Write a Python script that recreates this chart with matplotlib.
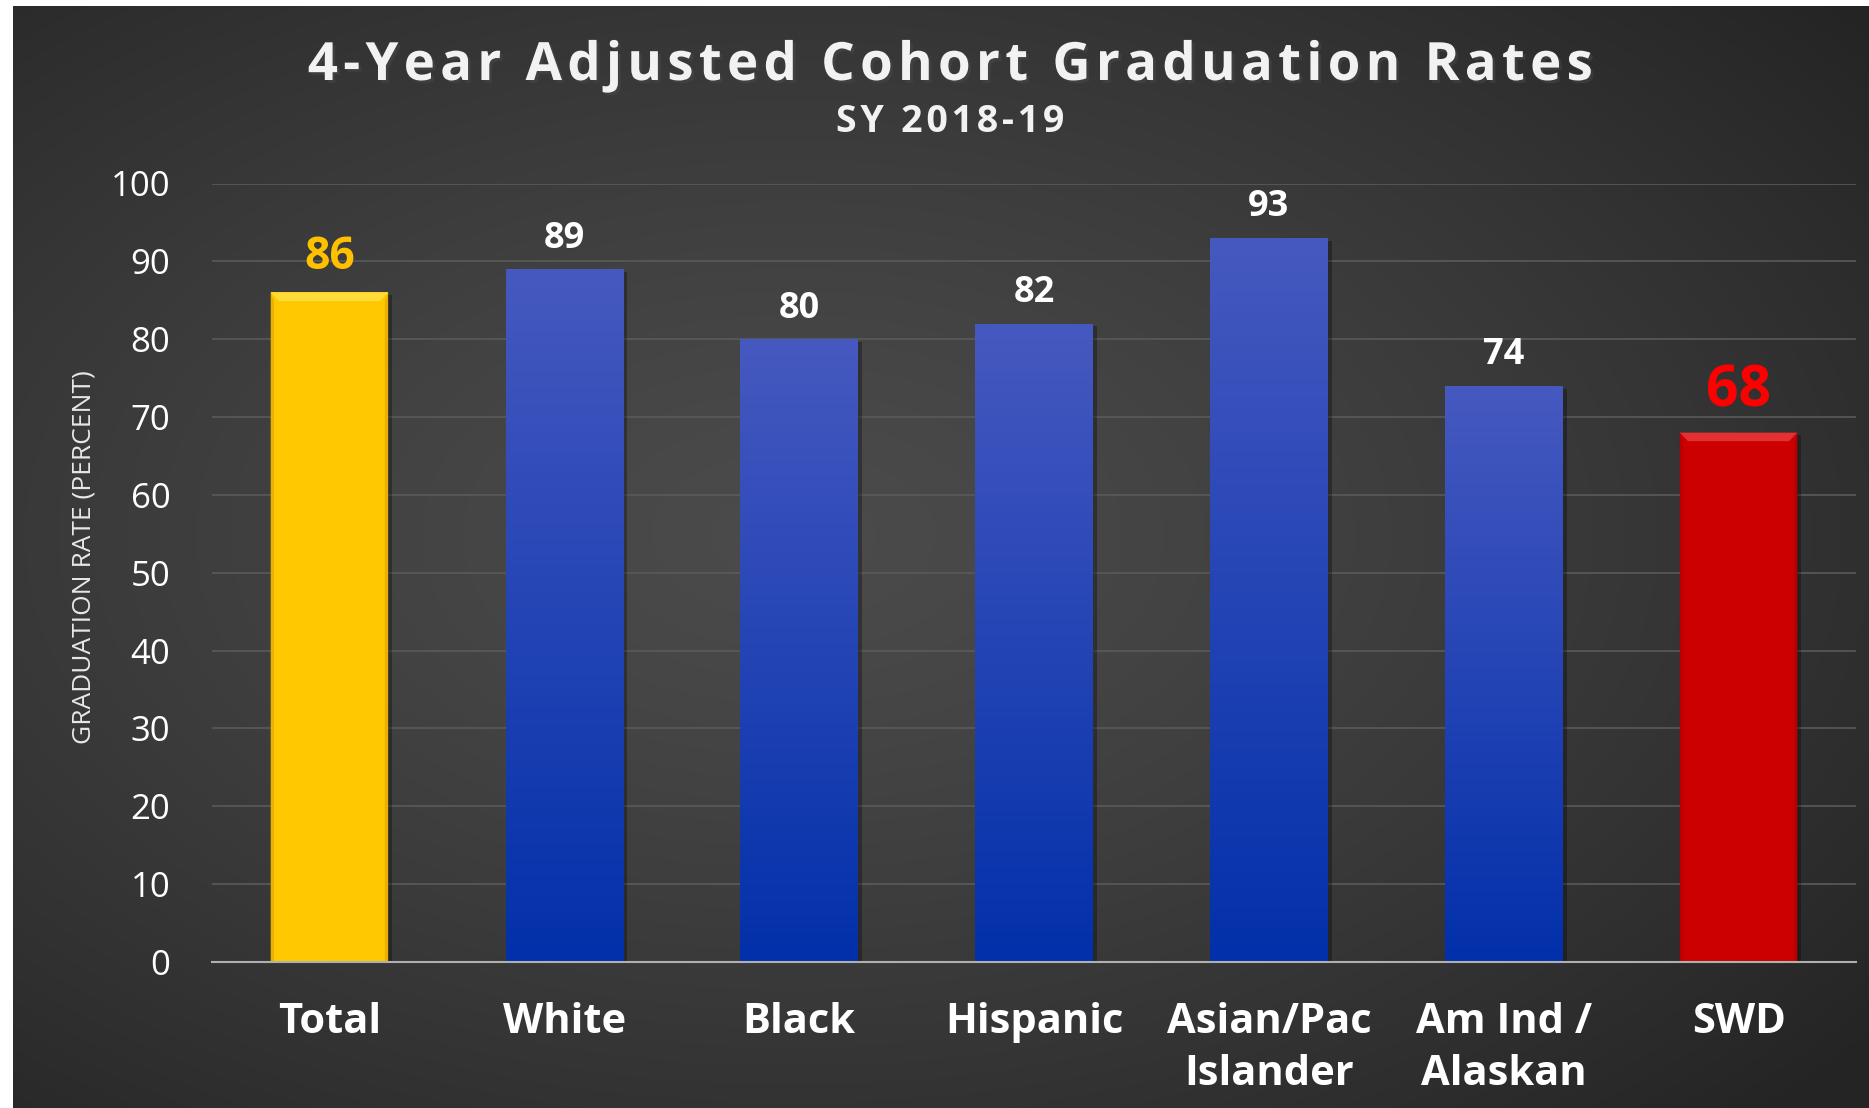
import numpy as np
import matplotlib.pyplot as plt
from matplotlib.patches import Polygon
from matplotlib import patheffects as pe

# Graduation rates by group, SY 2018-19
groups = ['Total', 'White', 'Black', 'Hispanic', 'Asian/Pac\nIslander', 'Am Ind /\nAlaskan', 'SWD']
rates = [86, 89, 80, 82, 93, 74, 68]
yticks = [0, 10, 20, 30, 40, 50, 60, 70, 80, 90, 100]
title = '4-Year Adjusted Cohort Graduation Rates'
subtitle = 'SY 2018-19'

W, H = 1869, 1108
fig = plt.figure(figsize=(W / 100, H / 100), dpi=100)
fig.patch.set_facecolor('white')


def spaced(s):
    # loosen the tracking a little with hair spaces
    return '\u200a'.join(s)


# dark panel with a soft radial glow in the middle
bg = fig.add_axes([13 / W, 0, 1 - 13 / W, 1 - 6 / H])
bg.set_axis_off()
yy, xx = np.mgrid[0:1:400j, 0:1:700j]
r = np.sqrt(((xx - 0.42) / 0.75) ** 2 + ((yy - 0.52) / 0.75) ** 2)
r = np.clip(r, 0, 1)
c_in = np.array([0x4b, 0x4b, 0x4b]) / 255
c_out = np.array([0x24, 0x24, 0x24]) / 255
img = c_in[None, None, :] * (1 - r[..., None] ** 1.3) + c_out[None, None, :] * r[..., None] ** 1.3
bg.imshow(img, aspect='auto', extent=[0, 1, 0, 1], origin='lower')

ax = fig.add_axes([212 / W, 146 / H, (1856 - 212) / W, (962 - 183.5) / H])
ax.set_facecolor('none')
ax.set_xlim(-0.5, len(groups) - 0.5)
ax.set_ylim(0, 100)
ax.set_yticks(yticks)
ax.grid(axis='y', color='#5a5a5a', linewidth=1.2)
ax.set_axisbelow(True)
for s in ['top', 'right', 'left']:
    ax.spines[s].set_visible(False)
ax.spines['bottom'].set_color('#b0b0b0')
ax.spines['bottom'].set_linewidth(1.5)
ax.spines['bottom'].set_zorder(5)

ax.tick_params(axis='y', length=0, pad=30, labelsize=25, labelcolor='white')
ax.tick_params(axis='x', length=0, pad=29, labelsize=30, labelcolor='white')
ax.set_xticks(range(len(groups)))
ax.set_xticklabels(groups, fontweight='bold', linespacing=1.35)
for lbl in ax.get_yticklabels():
    lbl.set_family('Open Sans')
for lbl in ax.get_xticklabels():
    lbl.set_family('Open Sans')

ax.set_ylabel('GRADUATION RATE (PERCENT)', color='#e8e8e8', fontsize=19,
              family=['Liberation Sans Narrow', 'Open Sans'])
ax.yaxis.set_label_coords(-0.07, 0.52)

width = 0.5
fills = ['#ffc800', 'blue', 'blue', 'blue', 'blue', 'blue', '#cc0000']
bars = ax.bar(range(len(groups)), rates, width=width, color=fills, zorder=2)
shadow = [pe.SimplePatchShadow(offset=(3, -2), shadow_rgbFace='black', alpha=0.3), pe.Normal()]

blue_grad = np.linspace(0, 1, 256)[:, None]
top_c = np.array([0x46, 0x59, 0xc0]) / 255
bot_c = np.array([0x02, 0x30, 0xaa]) / 255
grad_img = bot_c[None, None, :] * (1 - blue_grad[..., None]) + top_c[None, None, :] * blue_grad[..., None]
grad_img = np.repeat(grad_img, 2, axis=1)

for b, fc in zip(bars, fills):
    b.set_path_effects(shadow)
    x0, x1 = b.get_x(), b.get_x() + b.get_width()
    top = b.get_height()
    if fc == 'blue':
        b.set_facecolor('#1a3fb0')
        im = ax.imshow(grad_img, extent=[x0, x1, 0, top], origin='lower',
                       aspect='auto', zorder=2.5)
        im.set_clip_path(b)
    else:
        light = '#ffdc3a' if fc == '#ffc800' else '#e43030'
        dark = '#eeb000' if fc == '#ffc800' else '#b80000'
        dx, dy = 0.035, 1.1
        ax.add_patch(Polygon([[x0, top], [x1, top], [x1 - dx, top - dy], [x0 + dx, top - dy]],
                             closed=True, facecolor=light, edgecolor='none', zorder=3))
        ax.add_patch(Polygon([[x0, top], [x0 + dx * 0.4, top - dy], [x0 + dx * 0.4, 0], [x0, 0]],
                             closed=True, facecolor=dark, edgecolor='none', zorder=3))
        ax.add_patch(Polygon([[x1, top], [x1 - dx * 0.4, top - dy], [x1 - dx * 0.4, 0], [x1, 0]],
                             closed=True, facecolor=dark, edgecolor='none', zorder=3))
ax.set_xlim(-0.5, len(groups) - 0.5)
ax.set_ylim(0, 100)

# value labels above bars
label_style = {0: ('#ffc000', 32), len(groups) - 1: ('#ff0000', 41)}
for i, v in enumerate(rates):
    col, fs = label_style.get(i, ('white', 26))
    ax.annotate(str(v), xy=(i, v), xytext=(0, 9), textcoords='offset points',
                ha='center', va='bottom', color=col, fontsize=fs, fontweight='bold',
                family='Open Sans', zorder=6)

fig.text(950 / W, 1 - 66 / H, spaced(title), ha='center', va='center',
         color='#f2f2f2', fontsize=38, fontweight='bold', family=['Open Sans', 'DejaVu Sans'],
         path_effects=[pe.withSimplePatchShadow(offset=(2, -2), alpha=0.5)])
fig.text(950 / W, 1 - 122 / H, spaced(subtitle), ha='center', va='center',
         color='#f2f2f2', fontsize=27, fontweight='bold', family=['Open Sans', 'DejaVu Sans'])

fig.savefig('out.png', dpi=100, facecolor=fig.get_facecolor())
